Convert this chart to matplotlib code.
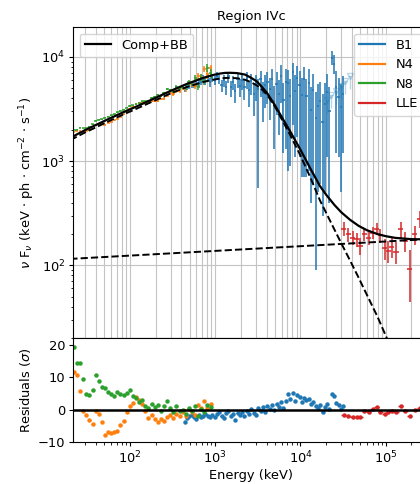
import matplotlib
matplotlib.use("Agg")
import matplotlib.pyplot as plt
from matplotlib.lines import Line2D
import numpy as np

# ---------------- spectral data ----------------
# NaI detectors (n4, n8): shared bin centres (keV)
e_nai = [22.0, 23.9, 26.0, 28.3, 30.8, 33.5, 36.4, 39.6, 43.1, 46.9, 51.0, 55.4,
         60.3, 65.6, 71.3, 77.5, 84.3, 91.7, 99.7, 108.4, 117.9, 128.2, 139.5,
         151.7, 164.9, 179.4, 195.1, 212.1, 230.7, 250.9, 272.8, 296.7, 322.7,
         350.9, 381.6, 415.0, 451.3, 490.8, 533.7, 580.4, 631.2, 686.4, 746.5,
         811.8, 882.8]

n8_flux = [2010, 2010, 2092, 2083, 2080, 2148, 2256, 2435, 2491, 2529, 2612, 2671,
           2741, 2809, 2949, 3027, 3106, 3242, 3386, 3429, 3513, 3580, 3736,
           3747, 3817, 4039, 4087, 4292, 4241, 4533, 4905, 4764, 4717,
           5197, 5005, 5203, 5082, 5697, 5568, 6340, 5194, 6329, 5924,
           7800, 7000]
n8_err = [14, 14, 16, 16, 18, 19, 20, 21, 23, 24, 26, 28,
          29, 31, 33, 36, 38, 41, 44, 48, 53, 58, 64,
          69, 75, 82, 88, 99, 111, 123, 137, 151, 169,
          189, 210, 236, 265, 294, 331, 369, 416, 464, 520,
          700, 650]
n8_resid = [19.3, 14.6, 14.5, 9.5, 4.8, 4.6, 6.0, 10.8, 9.0, 7.0, 6.6, 5.5,
            5.0, 4.2, 5.6, 5.0, 4.4, 5.2, 6.0, 4.3, 3.6, 2.5, 3.0,
            1.3, 0.6, 1.8, 0.8, 1.5, -0.3, 1.0, 2.6, 0.4, -0.7,
            1.2, -0.5, -0.2, -1.2, 0.5, -0.4, 1.3, -2.0, 0.3, -0.8,
            1.6, 0.9]

n4_flux = [1905, 1954, 1954, 1922, 1967, 2004, 2047, 2198, 2253, 2274, 2243, 2328,
           2389, 2464, 2548, 2678, 2804, 3004, 3168, 3327, 3524, 3609, 3660,
           3622, 3583, 3761, 3751, 3765, 3963, 3965, 4222, 4478, 4412,
           4743, 4691, 5061, 4897, 5638, 5502, 5269, 6607, 6376, 7692,
           6847, 7787]
n4_err = n8_err
n4_resid = [11.8, 10.7, 5.8, -0.3, -1.5, -3.2, -4.3, -0.5, -1.4, -3.8, -7.8, -6.9,
            -7.3, -7.0, -6.5, -4.8, -3.5, -0.6, 1.0, 2.2, 3.8, 3.0, 1.8,
            -0.5, -2.5, -1.6, -3.0, -3.8, -2.8, -3.6, -2.4, -1.5, -2.5,
            -1.2, -2.0, -0.8, -1.9, 0.3, -0.6, -1.6, 1.4, 0.4, 2.6,
            0.6, 1.8]

# BGO detector (b1)
e_b1 = [440, 468, 498, 530, 564, 600, 638, 679, 722, 768, 817, 870, 925, 984,
        1047, 1114, 1185, 1261, 1342, 1428, 1519, 1616, 1719, 1829, 1946, 2070,
        2203, 2344, 2494, 2653, 2823, 3003, 3195, 3400, 3617, 3848, 4094, 4356,
        4635, 4931, 5246, 5582, 5939, 6319, 6723, 7153, 7610, 8097, 8615, 9166,
        9752, 10375, 11039, 11745, 12496, 13295, 14145, 15050, 16012, 17036,
        18126, 19285, 20518, 21830, 23226, 24712, 26292, 27974, 29763, 31666]
b1_flux = [4900, 5100, 5300, 5350, 5400, 5500,
           5600, 5800, 6200, 5900, 6400, 5700, 6300, 6000, 6600,
           6200, 5400, 6000, 5200, 6500, 5100, 5800, 4700, 6100, 5300, 6000,
           5200, 6300, 4800, 5900, 4400, 5600, 4900, 6100, 4500, 5400, 5800,
           4900, 6200, 3800, 5500, 4400, 6600, 3900, 5800,
           5600, 4200, 7200, 4700, 6300, 5400, 4300,
           6200, 4200, 5600, 3100, 4800, 2600, 3400,
           3800, 2400, 3500, 4600, 3000,
           9800, 8600, 5200, 4100, 3300, 4400]
b1_err_lo = [300, 320, 340, 350, 360, 380,
             400, 420, 450, 470, 500, 520, 560, 600, 650,
             700, 750, 800, 850, 900, 950, 1000, 1050, 1100, 1150, 1200,
             1300, 1400, 1500, 1600, 1700, 1800, 4350, 2000, 2100, 2200, 2300,
             2400, 2600, 2500, 2700, 2600, 3000, 2700, 4500,
             4800, 3300, 5000, 3600, 4600, 4300, 3600,
             5500, 3500, 4800, 2700, 4200, 2510, 2900,
             3200, 2100, 3000, 3500, 2600,
             1500, 1800, 4000, 3000, 2800, 3200]
b1_err_hi = [300, 320, 340, 350, 360, 380,
             400, 420, 450, 470, 500, 520, 560, 600, 650,
             600, 650, 650, 700, 700, 750, 750, 800, 800, 850, 850,
             900, 900, 1000, 1000, 1100, 1100, 1200, 1200, 1300, 1300, 1400,
             1400, 1500, 1500, 1600, 1600, 1700, 1700, 1800,
             1900, 2000, 1500, 2000, 1900, 2000, 2000,
             1800, 2000, 2000, 2000, 2100, 2000, 2100,
             2000, 2000, 2100, 2200, 2100,
             1500, 1800, 2200, 2200, 2200, 2200]
b1_resid = [-3.8, -2.5, -2.0, -1.5, -2.2, -3.0,
            -1.5, -2.3, -1.8, -1.2, -2.0, -2.4, -1.6, -2.2, -1.4,
            -0.8, -1.9, -2.5, -1.0, -0.5, -2.0, -1.3, -3.2, -0.9, -1.6, -0.7,
            -1.8, -0.4, -1.2, 0.2, -0.9, -1.5, 0.4, -0.3, 0.8, -0.6, 1.1,
            0.3, 1.5, -0.2, 1.8, 0.9, 2.3, 0.6, 2.8,
            4.8, 3.2, 5.3, 2.6, 4.5, 3.9, 2.4,
            3.6, 2.9, 3.3, 1.8, 2.5, 1.2, 0.6,
            1.6, -0.8, 0.9, 1.7, 0.3,
            5.0, 4.2, 2.2, 1.4, 0.3, 1.3]

# BGO upper limits
e_b1_ul = [20500, 23000, 26000, 29500, 33500, 38000]
b1_ul = [3900, 4300, 4700, 5300, 5900, 6500]

# LAT Low Energy events
e_lle = [32300, 36500, 41000, 45500, 50000, 56000, 63000, 70500, 78000, 86000,
         97000, 107000, 118000, 132000, 150000, 170000, 192000, 220000, 250000]
lle_flux = [225, 198, 184, 178, 153, 198, 184, 205, 225, 194,
            145, 138, 150, 135, 221, 171, 92, 198, 280]
lle_err = [35, 30, 28, 28, 28, 28, 26, 28, 30, 30,
           32, 32, 32, 32, 38, 36, 48, 40, 50]
lle_resid = [-1.6, -2.0, -2.2, -2.3, -2.2, -0.3, -0.7, 0.1, 0.8, -0.7,
             -1.2, -0.7, -0.5, -0.7, 1.0, -0.4, -1.8, -0.2, 0.4]

# ---------------- model curves ----------------
e_total = [20, 21.5, 30, 48.6, 80, 120, 200, 294, 450, 723, 950, 1140, 1300, 1490,
           1800, 2230, 2600, 3050, 3500, 4040, 5000, 6190, 7510, 10000, 13000,
           16900, 20000, 25000, 30000, 37900, 48000, 60000, 80000, 100000,
           130000, 200000, 300000, 400000]
total = [1680, 1725, 1990, 2400, 2900, 3350, 4050, 4690, 5450, 6300, 6720, 6930,
         7030, 7050, 7000, 6780, 6350, 5850, 5200, 4530, 3450, 2550, 1950, 1283,
         854, 576, 475, 379, 323, 274, 239, 217, 199, 190,
         183, 178, 177, 180]

e_comp = [20, 21.5, 30, 48.6, 80, 120, 200, 294, 450, 723, 950, 1140, 1300, 1490,
          1800, 2230, 2600, 3050, 3500, 4040, 5000, 6190, 7510, 10000, 13000,
          16900, 20000, 25000, 30000, 37900, 48000, 60000, 80000, 100000, 125000]
comp = [1590, 1640, 1890, 2280, 2760, 3190, 3850, 4440, 5100, 5750, 6050, 6200,
        6280, 6300, 6250, 6050, 5750, 5350, 4900, 4350, 3350, 2420, 1800, 1130,
        700, 420, 318, 220, 163, 112, 76, 52, 32, 21, 14]

e_pl = [20, 400000]
pl = [115, 180]

# ---------------- figure ----------------
plt.rcParams['font.family'] = ['DejaVu Sans']
plt.rcParams['font.size'] = 9.4
plt.rcParams['xtick.major.pad'] = 2.5
plt.rcParams['ytick.major.pad'] = 2.5
plt.rcParams['xtick.major.size'] = 3.2
plt.rcParams['ytick.major.size'] = 3.2
plt.rcParams['xtick.minor.size'] = 1.8
plt.rcParams['ytick.minor.size'] = 1.8

fig = plt.figure(figsize=(4.2, 4.84), dpi=100)
W, H = 420.0, 484.0
left, right = 73 / W, 430 / W
ax = fig.add_axes([left, 1 - 338 / H, right - left, (338 - 27) / H])
axr = fig.add_axes([left, 1 - 442 / H, right - left, (442 - 338) / H], sharex=ax)

C_B1, C_N4, C_N8, C_LLE = 'tab:blue', 'tab:orange', 'tab:green', 'tab:red'

def xerr_of(e, frac):
    e = np.asarray(e, dtype=float)
    return e * frac

eb = dict(fmt='none', lw=1.1, capsize=0)
ax.errorbar(e_b1, b1_flux, xerr=xerr_of(e_b1, 0.03), yerr=[b1_err_lo, b1_err_hi],
            ecolor=C_B1, **eb)
ax.errorbar(e_b1_ul, b1_ul, xerr=xerr_of(e_b1_ul, 0.04),
            yerr=[np.asarray(b1_ul) * 0.25, np.zeros(len(b1_ul))],
            fmt='v', ms=4, mfc='none', color=C_B1, alpha=0.3, lw=1.0)
ax.errorbar(e_nai, n4_flux, xerr=xerr_of(e_nai, 0.04), yerr=n4_err, ecolor=C_N4, **eb)
ax.errorbar(e_nai, n8_flux, xerr=xerr_of(e_nai, 0.04), yerr=n8_err, ecolor=C_N8, **eb)
ax.errorbar(e_lle, lle_flux, xerr=xerr_of(e_lle, 0.07), yerr=lle_err, ecolor=C_LLE, **eb)

ax.plot(e_total, total, color='black', lw=1.6, zorder=5)
ax.plot(e_comp, comp, color='black', lw=1.4, ls='--', zorder=5)
ax.plot(e_pl, pl, color='black', lw=1.4, ls='--', zorder=5)

ax.set_xscale('log')
ax.set_yscale('log')
ax.set_xlim(21.5, 3.3e5)
ax.set_ylim(20, 1.94e4)
ax.grid(True, which='both', axis='x', color='#c4c4c4', lw=0.8)
ax.grid(True, which='major', axis='y', color='#c4c4c4', lw=0.8)
ax.set_axisbelow(True)
ax.tick_params(labelbottom=False)
ax.set_title('Region IVc', fontsize=9.4, pad=5)
ax.set_ylabel(r'$\nu$ F$_\nu$ (keV $\cdot$ ph $\cdot$ cm$^{-2}$ $\cdot$ s$^{-1}$)',
              labelpad=3)

leg1 = ax.legend([Line2D([], [], color='black', lw=1.6)], ['Comp+BB'],
                 loc='upper left')
ax.add_artist(leg1)
ax.legend([Line2D([], [], color=c, lw=1.6) for c in (C_B1, C_N4, C_N8, C_LLE)],
          ['B1', 'N4', 'N8', 'LLE'], loc='upper right')

# residuals
rk = dict(fmt='o', ms=2.2, lw=1.0, capsize=0)
axr.errorbar(e_b1, b1_resid, xerr=xerr_of(e_b1, 0.03), color=C_B1, **rk)
axr.errorbar(e_nai, n4_resid, xerr=xerr_of(e_nai, 0.03), color=C_N4, **rk)
axr.errorbar(e_nai, n8_resid, xerr=xerr_of(e_nai, 0.03), color=C_N8, **rk)
axr.errorbar(e_lle, lle_resid, xerr=xerr_of(e_lle, 0.07), color=C_LLE, **rk)
axr.axhline(0, color='black', lw=1.8, zorder=5)
axr.set_ylim(-10, 22.2)
axr.set_yticks([-10, 0, 10, 20])
axr.set_ylabel(r'Residuals ($\sigma$)', labelpad=3)
axr.set_xlabel('Energy (keV)', labelpad=2)

fig.savefig('out.png', dpi=100)
